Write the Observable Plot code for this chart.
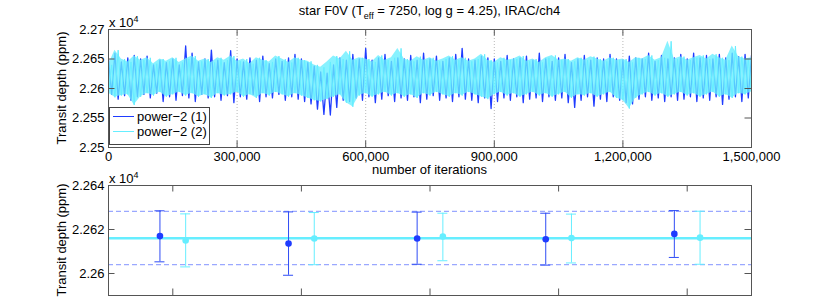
<!DOCTYPE html>
<html>
<head>
<meta charset="utf-8">
<script src="https://cdn.jsdelivr.net/npm/d3@7"></script>
<script src="https://cdn.jsdelivr.net/npm/@observablehq/plot@0.6"></script>
<style>
  html, body { margin: 0; padding: 0; background: #fff; }
  #fig { position: relative; width: 830px; height: 308px; font-family: "Liberation Sans", Arial, Helvetica, sans-serif; color: #000; overflow: hidden; }
  #fig svg { position: absolute; left: 0; }
  .lbl { position: absolute; font-size: 13px; line-height: 13px; white-space: nowrap; }
  .ylab { position: absolute; font-size: 13px; line-height: 13px; white-space: nowrap; transform: translate(-50%, -50%) rotate(-90deg); }
  .expo { position: absolute; font-size: 13px; line-height: 13px; white-space: nowrap; }
  .expo sup { font-size: 9px; line-height: 0; vertical-align: 5px; }
  #title sub { font-size: 9px; line-height: 0; vertical-align: -4px; }
  #legend { position: absolute; left: 109px; top: 107px; width: 101px; height: 38px; background: #fff; border: 1px solid #444; box-sizing: border-box; }
  #legend .row { position: absolute; left: 3px; height: 14px; font-size: 13px; line-height: 14px; white-space: nowrap; }
  #legend .sw { display: inline-block; width: 21px; height: 1px; vertical-align: middle; margin-right: 3px; position: relative; top: -1px; }
</style>
</head>
<body>
<div id="fig"></div>
<script>
// ---------------- data ----------------
const seriesNames = ["power\u22122 (1)", "power\u22122 (2)"];
const titleMain = "star F0V (T";
const titleSub = "eff";
const titleRest = " = 7250, log g = 4.25), IRAC/ch4";
const xLabel = "number of iterations";
const yLabel = "Transit depth (ppm)";

const traceStep = 15000;
const blueHi = [22650,22660,22645,22652,22656,22650,22655,22640,22648,22644,
  22650,22640,22672,22660,22645,22650,22665,22648,22644,22664,
  22650,22645,22652,22648,22655,22642,22650,22646,22652,22658,
  22650,22644,22638,22628,22626,22640,22652,22648,22658,22650,
  22668,22648,22652,22658,22646,22652,22650,22656,22648,22660,
  22650,22655,22646,22652,22658,22668,22650,22648,22655,22652,
  22650,22646,22656,22650,22652,22655,22648,22660,22650,22646,
  22652,22658,22644,22650,22656,22648,22652,22650,22658,22650,
  22648,22655,22652,22650,22660,22646,22656,22650,22652,22658,
  22650,22660,22652,22656,22650,22658,22652,22660,22654,22658,
  22656];
const blueLo = [22590,22582,22588,22580,22586,22590,22584,22592,22578,22586,
  22580,22588,22584,22578,22590,22584,22586,22580,22588,22576,
  22586,22582,22590,22578,22586,22584,22590,22580,22586,22582,
  22578,22574,22565,22556,22555,22568,22580,22578,22584,22580,
  22586,22576,22582,22588,22578,22584,22580,22586,22576,22582,
  22588,22580,22584,22578,22586,22582,22580,22576,22584,22566,
  22578,22584,22580,22586,22576,22582,22584,22578,22586,22580,
  22584,22576,22568,22580,22586,22570,22582,22578,22586,22580,
  22576,22574,22582,22586,22580,22584,22578,22586,22580,22582,
  22586,22578,22584,22580,22586,22573,22582,22586,22578,22584,
  22580];
const cyanHi = [22640,22665,22650,22645,22655,22648,22652,22642,22650,22646,
  22652,22644,22650,22655,22646,22650,22644,22652,22648,22655,
  22646,22650,22642,22652,22648,22645,22655,22650,22644,22652,
  22648,22646,22640,22636,22645,22655,22650,22663,22648,22652,
  22650,22645,22656,22648,22652,22668,22650,22646,22654,22648,
  22652,22646,22650,22655,22648,22652,22646,22650,22658,22648,
  22644,22652,22648,22650,22655,22646,22650,22644,22652,22656,
  22648,22650,22646,22652,22648,22654,22650,22646,22652,22648,
  22650,22644,22652,22650,22656,22648,22652,22680,22650,22654,
  22648,22652,22656,22650,22658,22652,22648,22672,22654,22650,
  22652];
const cyanLo = [22592,22585,22588,22590,22572,22586,22592,22588,22594,22586,
  22590,22594,22588,22592,22586,22590,22584,22592,22588,22590,
  22594,22586,22590,22584,22592,22588,22594,22590,22586,22592,
  22588,22584,22580,22578,22582,22586,22590,22576,22569,22588,
  22592,22586,22590,22594,22588,22592,22586,22590,22584,22592,
  22588,22594,22590,22586,22592,22588,22594,22590,22586,22582,
  22590,22594,22588,22592,22586,22590,22594,22588,22592,22586,
  22590,22594,22584,22590,22588,22592,22586,22590,22594,22584,
  22580,22566,22584,22590,22594,22588,22592,22586,22590,22594,
  22588,22592,22586,22590,22594,22586,22590,22584,22592,22590,
  22594];

const topXTicks = [0, 300000, 600000, 900000, 1200000, 1500000];
const topYTicks = [22500, 22550, 22600, 22650, 22700];

// segment summary (mean and error bounds per fifth of the chain)
const segments = [1, 2, 3, 4, 5];
const blueMean = [22617.0, 22613.6, 22615.9, 22615.6, 22618.0];
const blueLow  = [22605.3, 22599.2, 22604.2, 22603.8, 22607.3];
const blueHigh = [22628.5, 22628.0, 22627.9, 22627.4, 22628.6];
const cyanMean = [22615.0, 22615.9, 22616.8, 22616.1, 22616.3];
const cyanLow  = [22603.0, 22604.0, 22605.8, 22604.8, 22604.2];
const cyanHigh = [22627.1, 22627.7, 22627.4, 22627.0, 22628.3];
const overallMean = 22616.0;
const overallLow = 22604.0;
const overallHigh = 22628.2;
const botYTicks = [22600, 22620, 22640];

// ---------------- style ----------------
const BLUE = "#1f3cff";
const BLUE_BAR = "#2f4cf5";
const CYAN = "#66eeff";
const DASH = "#9aa8ff";
const AXIS = "#555";
const FONT = "'Liberation Sans', Arial, Helvetica, sans-serif";

const fig = document.getElementById("fig");

// ---------------- top plot ----------------
const blueTrace = blueHi.flatMap((h, i) => [
  {it: i * traceStep, v: h},
  {it: i * traceStep + traceStep / 2, v: blueLo[i]}
]);
const cyanTrace = cyanHi.flatMap((h, i) => [
  {it: i * traceStep, v: cyanLo[i]},
  {it: i * traceStep + traceStep / 2, v: h}
]);
const cyanBand = cyanHi.map((h, i) => ({it: i * traceStep, hi: h, lo: cyanLo[i]}));

const tTop = {w: 830, h: 180, ml: 108, mr: 79, mt: 29, mb: 33};
const xTickLenTop = 6.5 * 1500000 / (tTop.w - tTop.ml - tTop.mr);
const yTickLenTop = 6.5 * 200 / (tTop.h - tTop.mt - tTop.mb);
const fmt4 = v => String(+(v / 1e4).toFixed(4));

const topPlot = Plot.plot({
  width: tTop.w, height: tTop.h,
  marginLeft: tTop.ml, marginRight: tTop.mr, marginTop: tTop.mt, marginBottom: tTop.mb,
  style: {fontFamily: FONT, fontSize: "13px", background: "transparent", color: "#000", overflow: "visible"},
  x: {domain: [0, 1500000], axis: null},
  y: {domain: [22500, 22700], axis: null},
  marks: [
    Plot.ruleX(topXTicks.slice(1, -1), {stroke: "#b8b8b8", strokeDasharray: "1,2", strokeWidth: 1}),
    Plot.line(blueTrace, {x: "it", y: "v", stroke: BLUE, strokeWidth: 1.3, clip: true}),
    Plot.areaY(cyanBand, {x: "it", y1: "lo", y2: "hi", fill: CYAN, fillOpacity: 0.78, clip: true}),
    Plot.line(cyanTrace, {x: "it", y: "v", stroke: CYAN, strokeWidth: 1, clip: true}),
    Plot.ruleX(topXTicks, {x: d => d, y1: 22500, y2: 22500 + yTickLenTop, stroke: AXIS}),
    Plot.ruleX(topXTicks, {x: d => d, y1: 22700, y2: 22700 - yTickLenTop, stroke: AXIS}),
    Plot.ruleY(topYTicks, {y: d => d, x1: 0, x2: xTickLenTop, stroke: AXIS}),
    Plot.ruleY(topYTicks, {y: d => d, x1: 1500000, x2: 1500000 - xTickLenTop, stroke: AXIS}),
    Plot.frame({stroke: AXIS, strokeWidth: 1}),
    Plot.axisX({ticks: topXTicks, tickSize: 0, tickPadding: 4, tickFormat: d3.format(","), label: null, fontSize: 13}),
    Plot.axisY({ticks: topYTicks, tickSize: 0, tickPadding: 4, tickFormat: fmt4, label: null, fontSize: 13})
  ]
});
topPlot.style.top = "0px";
fig.appendChild(topPlot);

// ---------------- bottom plot ----------------
const tBot = {w: 830, h: 130, ml: 108, mr: 79, mt: 10, mb: 10};
const off = 0.1, capHalf = 0.039;
const segRows = segments.flatMap((s, i) => [
  {x: s - off, m: blueMean[i], lo: blueLow[i], hi: blueHigh[i], c: BLUE, bar: BLUE_BAR},
  {x: s + off, m: cyanMean[i], lo: cyanLow[i], hi: cyanHigh[i], c: CYAN, bar: CYAN}
]);
const xTickLenBot = 6.5 * 5 / (tBot.w - tBot.ml - tBot.mr);
const yTickLenBot = 6.5 * 50 / (tBot.h - tBot.mt - tBot.mb);

const botPlot = Plot.plot({
  width: tBot.w, height: tBot.h,
  marginLeft: tBot.ml, marginRight: tBot.mr, marginTop: tBot.mt, marginBottom: tBot.mb,
  style: {fontFamily: FONT, fontSize: "13px", background: "transparent", color: "#000", overflow: "visible"},
  x: {domain: [0.5, 5.5], axis: null},
  y: {domain: [22590, 22640], axis: null},
  marks: [
    Plot.ruleY([overallLow, overallHigh], {y: d => d, stroke: DASH, strokeWidth: 1.3, strokeDasharray: "5,3"}),
    Plot.ruleY([overallMean], {y: d => d, stroke: CYAN, strokeWidth: 2.6}),
    Plot.ruleX(segRows, {x: "x", y1: "lo", y2: "hi", stroke: d => d.bar, strokeWidth: 1}),
    Plot.ruleY(segRows, {y: "hi", x1: d => d.x - capHalf, x2: d => d.x + capHalf, stroke: d => d.bar, strokeWidth: 1}),
    Plot.ruleY(segRows, {y: "lo", x1: d => d.x - capHalf, x2: d => d.x + capHalf, stroke: d => d.bar, strokeWidth: 1}),
    Plot.dot(segRows, {x: "x", y: "m", r: 3.3, fill: d => d.c, stroke: "none"}),
    Plot.ruleX(segments, {x: d => d, y1: 22590, y2: 22590 + yTickLenBot, stroke: AXIS}),
    Plot.ruleX(segments, {x: d => d, y1: 22640, y2: 22640 - yTickLenBot, stroke: AXIS}),
    Plot.ruleY(botYTicks, {y: d => d, x1: 0.5, x2: 0.5 + xTickLenBot, stroke: AXIS}),
    Plot.ruleY(botYTicks, {y: d => d, x1: 5.5, x2: 5.5 - xTickLenBot, stroke: AXIS}),
    Plot.frame({stroke: AXIS, strokeWidth: 1}),
    Plot.axisY({ticks: botYTicks, tickSize: 0, tickPadding: 4, tickFormat: fmt4, label: null, fontSize: 13})
  ]
});
botPlot.style.top = "175px";
fig.appendChild(botPlot);

// ---------------- text decorations ----------------
function addDiv(cls, html, css) {
  const d = document.createElement("div");
  d.className = cls;
  d.innerHTML = html;
  Object.assign(d.style, css);
  fig.appendChild(d);
  return d;
}
const title = addDiv("lbl", "", {left: "429.5px", top: "4px", transform: "translateX(-50%)"});
title.id = "title";
title.append(titleMain);
const sub = document.createElement("sub"); sub.textContent = titleSub; title.appendChild(sub);
title.append(titleRest);

const xl = addDiv("lbl", "", {left: "429.5px", top: "163px", transform: "translateX(-50%)"});
xl.textContent = xLabel;

const yl1 = addDiv("ylab", "", {left: "61px", top: "88px"}); yl1.textContent = yLabel;
const yl2 = addDiv("ylab", "", {left: "61px", top: "240px"}); yl2.textContent = yLabel;

addDiv("expo", "x 10<sup>4</sup>", {left: "109px", top: "16px"});
addDiv("expo", "x 10<sup>4</sup>", {left: "109px", top: "172px"});

// legend
const leg = addDiv("", "", {});
leg.id = "legend";
[BLUE, CYAN].forEach((c, i) => {
  const r = document.createElement("div");
  r.className = "row";
  r.style.top = (2 + i * 15) + "px";
  const sw = document.createElement("span");
  sw.className = "sw"; sw.style.background = c;
  r.appendChild(sw);
  r.append(seriesNames[i]);
  leg.appendChild(r);
});
</script>
</body>
</html>
